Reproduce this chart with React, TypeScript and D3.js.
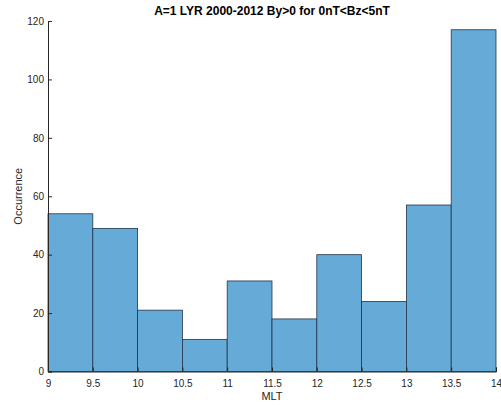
import React, { useRef, useEffect } from "react";
import * as d3 from "d3";

const binEdges = [9, 9.5, 10, 10.5, 11, 11.5, 12, 12.5, 13, 13.5, 14];
const counts = [54, 49, 21, 11, 31, 18, 40, 24, 57, 117];
const xTicks = [9, 9.5, 10, 10.5, 11, 11.5, 12, 12.5, 13, 13.5, 14];
const yTicks = [0, 20, 40, 60, 80, 100, 120];

const W = 501;
const H = 405;
const margin = { top: 21, right: 5, bottom: 33.5, left: 48 };

const App = () => {
  const ref = useRef<SVGSVGElement>(null);

  useEffect(() => {
    const svg = d3.select(ref.current);
    svg.selectAll("*").remove();

    const x = d3.scaleLinear().domain([9, 14]).range([margin.left, W - margin.right]);
    const y = d3.scaleLinear().domain([0, 120]).range([H - margin.bottom, margin.top]);

    const bins = counts.map((c, i) => ({ x0: binEdges[i], x1: binEdges[i + 1], c }));

    svg
      .append("g")
      .selectAll("rect")
      .data(bins)
      .enter()
      .append("rect")
      .attr("x", (d) => x(d.x0))
      .attr("y", (d) => y(d.c))
      .attr("width", (d) => x(d.x1) - x(d.x0))
      .attr("height", (d) => y(0) - y(d.c))
      .attr("fill", "#66aad7")
      .attr("stroke", "#22354a")
      .attr("stroke-width", 0.8);

    const font = "Liberation Sans, Arial, sans-serif";

    // x axis, ticks pointing inward
    const xAxis = svg
      .append("g")
      .attr("transform", `translate(0,${y(0)})`)
      .call(d3.axisBottom(x).tickValues(xTicks).tickSize(-4).tickPadding(8).tickFormat(d3.format("~g")));
    // y axis
    const yAxis = svg
      .append("g")
      .attr("transform", `translate(${x(9)},0)`)
      .call(d3.axisLeft(y).tickValues(yTicks).tickSize(-4).tickPadding(4));

    [xAxis, yAxis].forEach((a) => {
      a.select(".domain").attr("stroke", "#262626").attr("stroke-width", 1);
      a.selectAll(".tick line").attr("stroke", "#262626");
      a.selectAll("text").style("font-family", font).style("font-size", "10px").attr("fill", "#262626");
    });

    svg
      .append("text")
      .attr("x", (x(9) + x(14)) / 2)
      .attr("y", 15)
      .attr("text-anchor", "middle")
      .style("font-family", font)
      .style("font-size", "12px")
      .style("font-weight", "bold")
      .attr("fill", "#000")
      .text("A=1 LYR 2000-2012 By>0 for 0nT<Bz<5nT");

    svg
      .append("text")
      .attr("x", (x(9) + x(14)) / 2)
      .attr("y", 400)
      .attr("text-anchor", "middle")
      .style("font-family", font)
      .style("font-size", "11px")
      .attr("fill", "#262626")
      .text("MLT");

    svg
      .append("text")
      .attr("transform", `translate(22,${(y(0) + y(120)) / 2}) rotate(-90)`)
      .attr("text-anchor", "middle")
      .style("font-family", font)
      .style("font-size", "11px")
      .attr("fill", "#262626")
      .text("Occurrence");
  }, []);

  return (
    <svg
      ref={ref}
      width={W}
      height={H}
      style={{ position: "absolute", left: 0, top: 0, background: "#fff" }}
    ></svg>
  );
};

export default App;
